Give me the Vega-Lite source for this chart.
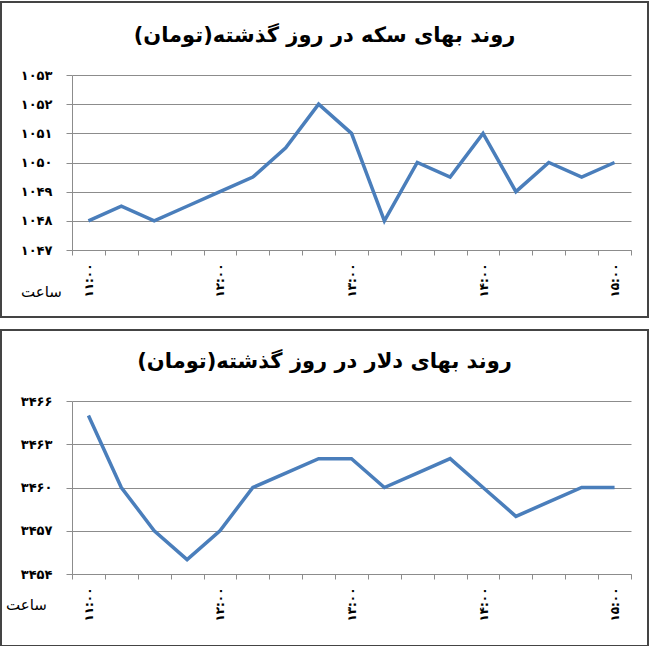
{
  "$schema": "https://vega.github.io/schema/vega-lite/v6.json",
  "background": "white",
  "padding": {"left": -6, "top": 1, "right": 1, "bottom": 1},
  "spacing": 11,
  "data": {
    "values": [
      {"t": "۱۱:۰۰", "coin": 1048, "dollar": 3465},
      {"t": "۱۱:۱۵", "coin": 1048.5, "dollar": 3460},
      {"t": "۱۱:۳۰", "coin": 1048, "dollar": 3457},
      {"t": "۱۱:۴۵", "coin": 1048.5, "dollar": 3455},
      {"t": "۱۲:۰۰", "coin": 1049, "dollar": 3457},
      {"t": "۱۲:۱۵", "coin": 1049.5, "dollar": 3460},
      {"t": "۱۲:۳۰", "coin": 1050.5, "dollar": 3461},
      {"t": "۱۲:۴۵", "coin": 1052, "dollar": 3462},
      {"t": "۱۳:۰۰", "coin": 1051, "dollar": 3462},
      {"t": "۱۳:۱۵", "coin": 1048, "dollar": 3460},
      {"t": "۱۳:۳۰", "coin": 1050, "dollar": 3461},
      {"t": "۱۳:۴۵", "coin": 1049.5, "dollar": 3462},
      {"t": "۱۴:۰۰", "coin": 1051, "dollar": 3460},
      {"t": "۱۴:۱۵", "coin": 1049, "dollar": 3458},
      {"t": "۱۴:۳۰", "coin": 1050, "dollar": 3459},
      {"t": "۱۴:۴۵", "coin": 1049.5, "dollar": 3460},
      {"t": "۱۵:۰۰", "coin": 1050, "dollar": 3460}
    ]
  },
  "config": {
    "font": "DejaVu Sans",
    "view": {"stroke": "#444", "strokeWidth": 2},
    "locale": {
      "number": {
        "decimal": ".",
        "thousands": ",",
        "grouping": [3],
        "currency": ["", ""],
        "numerals": ["۰", "۱", "۲", "۳", "۴", "۵", "۶", "۷", "۸", "۹"]
      }
    },
    "axis": {
      "domainColor": "#8c8c8c",
      "tickColor": "#8c8c8c",
      "gridColor": "#8c8c8c",
      "labelColor": "black",
      "titleColor": "black",
      "minExtent": 0,
      "maxExtent": 60
    },
    "title": {"fontSize": 21, "fontWeight": "bold", "anchor": "middle", "baseline": "middle", "color": "black"}
  },
  "vconcat": [
    {
      "width": 647,
      "height": 315,
      "title": {"text": "روند بهای سکه در روز گذشته(تومان)", "offset": -44},
      "mark": {"type": "line", "color": "#4A7EBB", "strokeWidth": 3.5},
      "encoding": {
        "x": {
          "field": "t", "type": "ordinal", "sort": null,
          "scale": {"type": "band", "range": [71, 630], "paddingInner": 0, "paddingOuter": 0},
          "axis": {
            "title": "ساعت", "titleX": 40, "titleY": 41, "titleAlign": "center", "titleBaseline": "middle",
            "titleAngle": 0, "titleFontWeight": "normal", "titleFontSize": 15,
            "offset": -67, "tickBand": "extent", "tickSize": 5, "grid": false,
            "labelAngle": -90, "labelPadding": 8, "labelFontSize": 12, "labelFontWeight": "bold", "labelOverlap": false,
            "labelExpr": "indexof(datum.label, ':۰۰') > 0 ? datum.label : ''"
          }
        },
        "y": {
          "field": "coin", "type": "quantitative",
          "scale": {"domain": [1047, 1053], "range": [248, 73], "zero": false, "nice": false},
          "axis": {
            "title": null, "offset": -71, "values": [1047, 1048, 1049, 1050, 1051, 1052, 1053], "format": "d",
            "tickSize": 6, "labelPadding": 14, "labelFontSize": 13, "labelFontWeight": "bold", "grid": true
          }
        }
      }
    },
    {
      "width": 647,
      "height": 316,
      "title": {"text": "روند بهای دلار در روز گذشته(تومان)", "offset": -42},
      "mark": {"type": "line", "color": "#4A7EBB", "strokeWidth": 3.5},
      "encoding": {
        "x": {
          "field": "t", "type": "ordinal", "sort": null,
          "scale": {"type": "band", "range": [71, 630], "paddingInner": 0, "paddingOuter": 0},
          "axis": {
            "title": "ساعت", "titleX": 25, "titleY": 30, "titleAlign": "center", "titleBaseline": "middle",
            "titleAngle": 0, "titleFontWeight": "normal", "titleFontSize": 15,
            "offset": -72, "tickBand": "extent", "tickSize": 5, "grid": false,
            "labelAngle": -90, "labelPadding": 8, "labelFontSize": 12, "labelFontWeight": "bold", "labelOverlap": false,
            "labelExpr": "indexof(datum.label, ':۰۰') > 0 ? datum.label : ''"
          }
        },
        "y": {
          "field": "dollar", "type": "quantitative",
          "scale": {"domain": [3454, 3466], "range": [244, 71], "zero": false, "nice": false},
          "axis": {
            "title": null, "offset": -71, "values": [3454, 3457, 3460, 3463, 3466], "format": "d",
            "tickSize": 6, "labelPadding": 14, "labelFontSize": 13, "labelFontWeight": "bold", "grid": true
          }
        }
      }
    }
  ]
}
